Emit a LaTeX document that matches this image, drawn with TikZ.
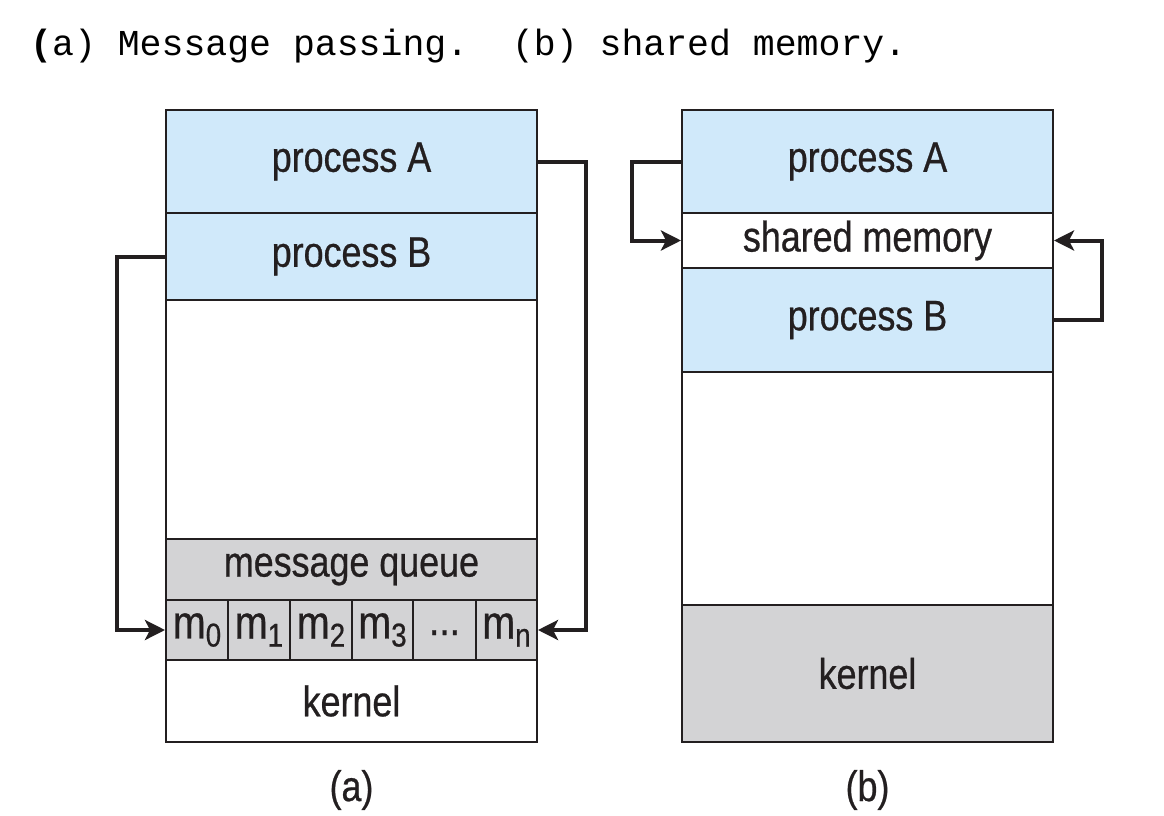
\documentclass[tikz,border=0pt]{standalone}
\usepackage{fontspec}
\usetikzlibrary{arrows.meta}
\newfontfamily\hv[FakeStretch=0.84,FakeBold=0.6]{Liberation Sans}
\newfontfamily\mono{Liberation Mono}
\definecolor{procblue}{RGB}{208,233,250}
\definecolor{kgray}{RGB}{211,211,213}
\definecolor{ink}{RGB}{35,31,32}
\newcommand{\msg}[1]{{\fontsize{47}{47}\selectfont m}\raisebox{-8pt}{\fontsize{33}{33}\selectfont #1}}
\tikzset{
  blk/.style={draw=ink, line width=2pt, inner sep=0pt, minimum width=371pt, text=ink,
    font=\hv\fontsize{42.7}{44}\selectfont},
  cell/.style={draw=ink, line width=2pt, inner sep=0pt, fill=kgray, minimum height=60pt, text=ink,
    font=\hv},
  conn/.style={draw=ink, line width=4pt, -{Stealth[length=20pt,width=20pt,inset=5pt]}},
  sublabel/.style={text=ink, font=\hv\fontsize{42.7}{44}\selectfont}
}
\begin{document}
\begin{tikzpicture}[x=1pt,y=-1pt]
\useasboundingbox (0,0) rectangle (1164,816);
% title
\node[anchor=base west, inner sep=0pt, text=black, font=\mono\fontsize{36.5}{38}\selectfont] (title) at (30,56)
  {{\bfseries(}a) Message passing.\ \ (b) shared memory.};
% ---- (a) message passing
\node[blk, fill=procblue, minimum height=103pt] (pA) at (351.5,161.5) {\raisebox{-3pt}{process A}};
\node[blk, fill=procblue, minimum height=87pt] (pB) at (351.5,256.5) {\raisebox{-3pt}{process B}};
\node[blk, fill=white, minimum height=239pt] (free) at (351.5,419.5) {};
\node[blk, fill=kgray, minimum height=61pt] (mq) at (351.5,569.5) {\raisebox{-2pt}{message queue}};
\node[cell, minimum width=62pt] (m0) at (197,630) {\msg{0}};
\node[cell, minimum width=62pt] (m1) at (259,630) {\msg{1}};
\node[cell, minimum width=62pt] (m2) at (321,630) {\msg{2}};
\node[cell, minimum width=61pt] (m3) at (382.5,630) {\msg{3}};
\node[cell, minimum width=63pt] (md) at (444.5,630) {\raisebox{-10pt}{\fontsize{44}{44}\selectfont ...}};
\node[cell, minimum width=61pt] (mn) at (506.5,630) {\msg{n}};
\node[blk, fill=white, minimum height=82pt] (kA) at (351.5,701) {kernel};
\draw[conn] (pB.west) -- ++(-48,0) |- (m0.west);
\draw[conn] (pA.east) -- ++(48,0) |- (mn.east);
\node[sublabel] (la) at (351.5,790) {(a)};
% ---- (b) shared memory
\node[blk, fill=procblue, minimum height=103pt] (qA) at (867.5,161.5) {\raisebox{-3pt}{process A}};
\node[blk, fill=white, minimum height=55pt] (sm) at (867.5,240.5) {shared memory};
\node[blk, fill=procblue, minimum height=104pt] (qB) at (867.5,320) {\raisebox{-3pt}{process B}};
\node[blk, fill=white, minimum height=233pt] (free2) at (867.5,488.5) {};
\node[blk, fill=kgray, minimum height=137pt] (kB) at (867.5,673.5) {kernel};
\draw[conn] (qA.west) -- ++(-49,0) |- (sm.west);
\draw[conn] (qB.east) -- ++(48,0) |- (sm.east);
\node[sublabel] (lb) at (867.5,790) {(b)};
\end{tikzpicture}
\end{document}
